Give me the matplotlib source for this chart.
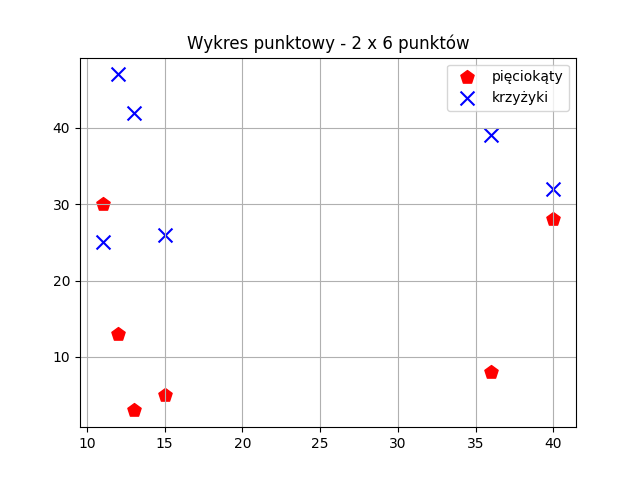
import matplotlib
matplotlib.use("Agg")
from matplotlib import pyplot as plt

x = [11, 12, 13, 15, 36, 40]
y_pieciokaty = [30, 13, 3, 5, 8, 28]
y_krzyzyki = [25, 47, 42, 26, 39, 32]

plt.figure(figsize=(6.4, 4.8), dpi=100)
plt.title("Wykres punktowy - 2 x 6 punktów")
plt.scatter(x, y_pieciokaty, marker="p", s=100, c="red", label="pięciokąty")
plt.scatter(x, y_krzyzyki, marker="x", s=100, c="blue", label="krzyżyki")
plt.grid(True)
plt.legend()
plt.savefig("out.png")
